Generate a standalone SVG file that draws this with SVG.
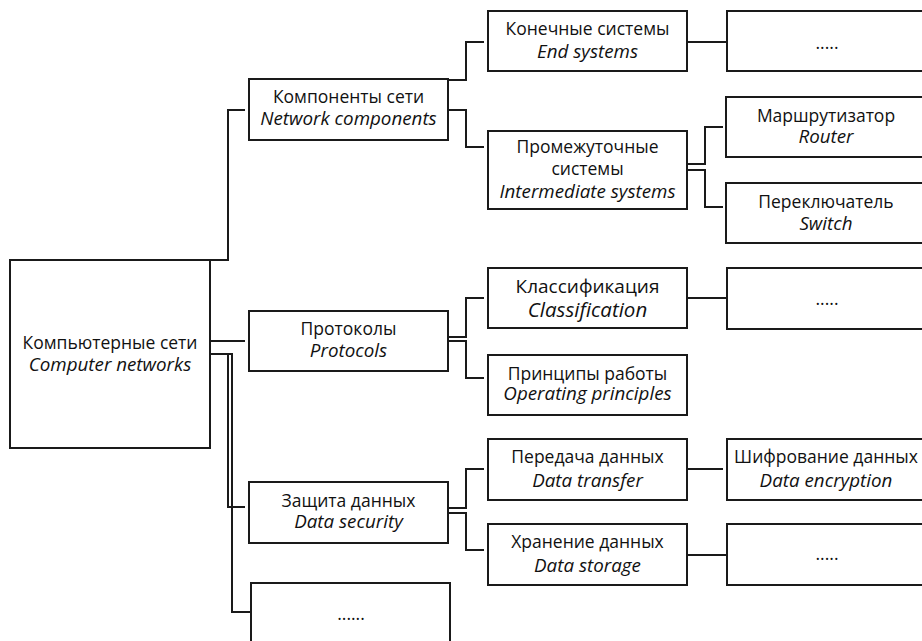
<svg xmlns="http://www.w3.org/2000/svg" width="922" height="641" viewBox="0 0 922 641">
<style>
rect.b{fill:#fff;stroke:#1a1a1a;stroke-width:2}
.c path{fill:none;stroke:#1a1a1a;stroke-width:2}
text{font-family:"Open Sans","Noto Sans","DejaVu Sans",sans-serif;font-size:17.5px;fill:#111;text-anchor:middle}
text.i{font-style:italic;font-size:18.8px}
text.l{font-size:19px}
text.i.l{font-size:20.5px}
</style>
<rect width="922" height="641" fill="#fff"/>
<g class="c" id="connectors">
<path d="M210,260H228V110H245"/>
<path d="M210,341H245"/>
<path d="M210,354H228V507H245"/>
<path d="M210,354H232V612H251"/>
<path d="M448,80H466V42H484"/>
<path d="M448,110H466V147H484"/>
<path d="M687,42H727"/>
<path d="M687,164H705V127H723"/>
<path d="M687,170H705V207H723"/>
<path d="M448,337H466V298H484"/>
<path d="M448,341H466V378H484"/>
<path d="M687,298H727"/>
<path d="M448,508H466V469H484"/>
<path d="M448,513H466V550H484"/>
<path d="M687,469H723"/>
<path d="M687,555H727"/>
</g>
<g id="root"><rect class="b" x="10" y="260" width="200" height="188"/>
<text x="110" y="349">Компьютерные сети</text><text class="i" x="110" y="371">Computer networks</text></g>
<g id="network-components"><rect class="b" x="249" y="79" width="199" height="61"/>
<text x="348.5" y="103">Компоненты сети</text><text class="i" x="348.5" y="125">Network components</text></g>
<g id="protocols"><rect class="b" x="249" y="311" width="199" height="60"/>
<text x="348.5" y="335">Протоколы</text><text class="i" x="348.5" y="357">Protocols</text></g>
<g id="data-security"><rect class="b" x="249" y="482" width="199" height="61"/>
<text x="348.5" y="507">Защита данных</text><text class="i" x="348.5" y="528">Data security</text></g>
<g id="more-main"><rect class="b" x="251" y="583" width="199" height="70"/>
<text x="351" y="620">......</text></g>
<g id="end-systems"><rect class="b" x="488" y="11" width="199" height="60"/>
<text x="587.5" y="35">Конечные системы</text><text class="i" x="587.5" y="58">End systems</text></g>
<g id="intermediate-systems"><rect class="b" x="488" y="131" width="199" height="78"/>
<text x="587.5" y="153">Промежуточные</text><text x="587.5" y="175">системы</text><text class="i" x="587.5" y="198">Intermediate systems</text></g>
<g id="classification"><rect class="b" x="488" y="268" width="199" height="60"/>
<text class="l" x="587.5" y="293">Классификация</text><text class="i l" x="587.5" y="317">Classification</text></g>
<g id="operating-principles"><rect class="b" x="488" y="355" width="199" height="60"/>
<text x="587.5" y="380">Принципы работы</text><text class="i" x="587.5" y="400">Operating principles</text></g>
<g id="data-transfer"><rect class="b" x="488" y="439" width="199" height="61"/>
<text x="587.5" y="463">Передача данных</text><text class="i" x="587.5" y="487">Data transfer</text></g>
<g id="data-storage"><rect class="b" x="488" y="524" width="199" height="61"/>
<text x="587.5" y="548">Хранение данных</text><text class="i" x="587.5" y="572">Data storage</text></g>
<g id="end-more"><rect class="b" x="727" y="11" width="200" height="60"/>
<text x="827" y="49">.....</text></g>
<g id="router"><rect class="b" x="726" y="97" width="200" height="60"/>
<text x="826" y="122">Маршрутизатор</text><text class="i" x="826" y="143">Router</text></g>
<g id="switch"><rect class="b" x="726" y="183" width="200" height="60"/>
<text x="826" y="208">Переключатель</text><text class="i" x="826" y="230">Switch</text></g>
<g id="classification-more"><rect class="b" x="727" y="268" width="200" height="61"/>
<text x="827" y="305">.....</text></g>
<g id="data-encryption"><rect class="b" x="727" y="439" width="200" height="61"/>
<text x="826" y="463">Шифрование данных</text><text class="i" x="826" y="487">Data encryption</text></g>
<g id="storage-more"><rect class="b" x="727" y="524" width="200" height="61"/>
<text x="827" y="560">.....</text></g>
</svg>
